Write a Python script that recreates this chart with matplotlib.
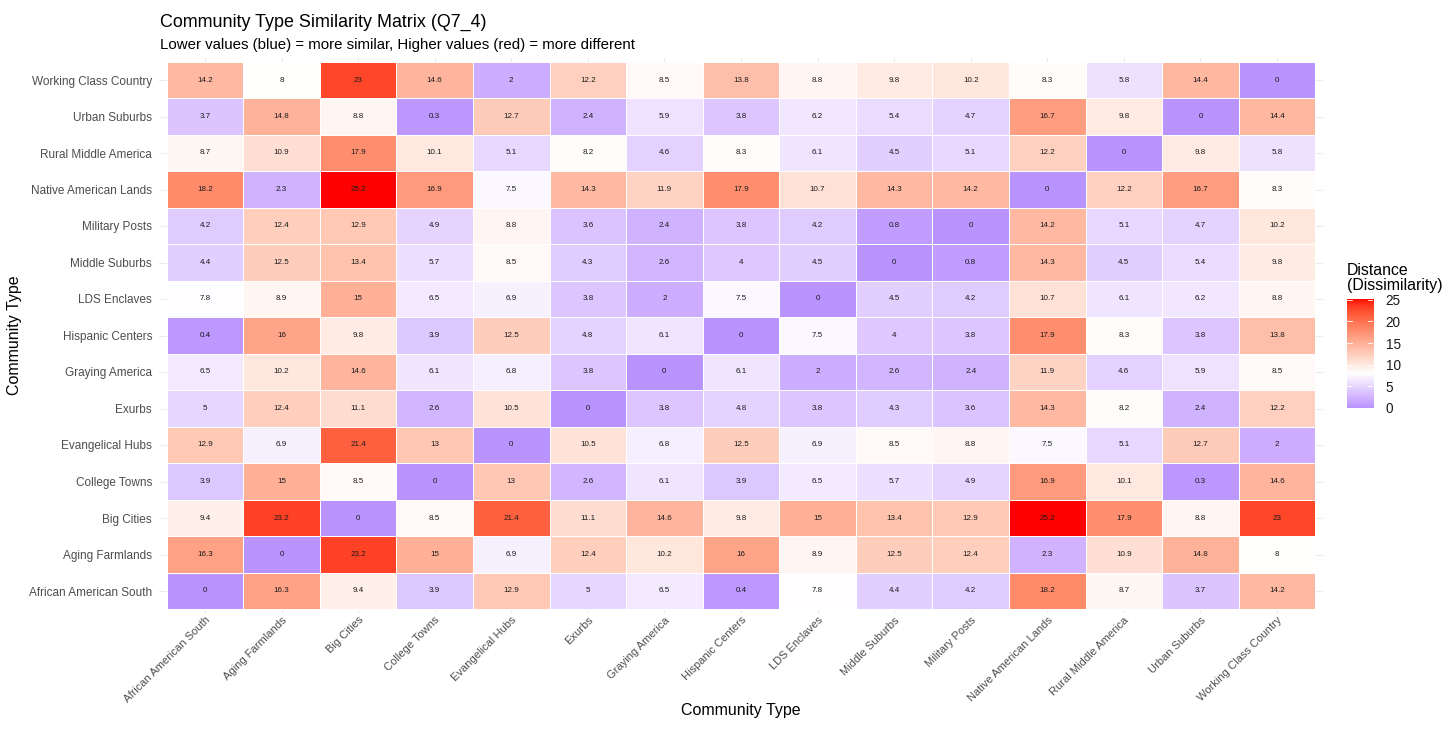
import numpy as np
import matplotlib
matplotlib.use("Agg")
import matplotlib.pyplot as plt
from matplotlib.colors import ListedColormap, Normalize

plt.rcParams['font.family'] = ['Liberation Sans', 'DejaVu Sans']

categories = ["African American South", "Aging Farmlands", "Big Cities", "College Towns",
              "Evangelical Hubs", "Exurbs", "Graying America", "Hispanic Centers",
              "LDS Enclaves", "Middle Suburbs", "Military Posts", "Native American Lands",
              "Rural Middle America", "Urban Suburbs", "Working Class Country"]

row_aas = [0, 16.3, 9.4, 3.9, 12.9, 5, 6.5, 0.4, 7.8, 4.4, 4.2, 18.2, 8.7, 3.7, 14.2]
row_af = [16.3, 0, 23.2, 15, 6.9, 12.4, 10.2, 16, 8.9, 12.5, 12.4, 2.3, 10.9, 14.8, 8]
row_bc = [9.4, 23.2, 0, 8.5, 21.4, 11.1, 14.6, 9.8, 15, 13.4, 12.9, 25.2, 17.9, 8.8, 23]
row_ct = [3.9, 15, 8.5, 0, 13, 2.6, 6.1, 3.9, 6.5, 5.7, 4.9, 16.9, 10.1, 0.3, 14.6]
row_eh = [12.9, 6.9, 21.4, 13, 0, 10.5, 6.8, 12.5, 6.9, 8.5, 8.8, 7.5, 5.1, 12.7, 2]
row_ex = [5, 12.4, 11.1, 2.6, 10.5, 0, 3.8, 4.8, 3.8, 4.3, 3.6, 14.3, 8.2, 2.4, 12.2]
row_ga = [6.5, 10.2, 14.6, 6.1, 6.8, 3.8, 0, 6.1, 2, 2.6, 2.4, 11.9, 4.6, 5.9, 8.5]
row_hc = [0.4, 16, 9.8, 3.9, 12.5, 4.8, 6.1, 0, 7.5, 4, 3.8, 17.9, 8.3, 3.8, 13.8]
row_lds = [7.8, 8.9, 15, 6.5, 6.9, 3.8, 2, 7.5, 0, 4.5, 4.2, 10.7, 6.1, 6.2, 8.8]
row_ms = [4.4, 12.5, 13.4, 5.7, 8.5, 4.3, 2.6, 4, 4.5, 0, 0.8, 14.3, 4.5, 5.4, 9.8]
row_mp = [4.2, 12.4, 12.9, 4.9, 8.8, 3.6, 2.4, 3.8, 4.2, 0.8, 0, 14.2, 5.1, 4.7, 10.2]
row_nal = [18.2, 2.3, 25.2, 16.9, 7.5, 14.3, 11.9, 17.9, 10.7, 14.3, 14.2, 0, 12.2, 16.7, 8.3]
row_rma = [8.7, 10.9, 17.9, 10.1, 5.1, 8.2, 4.6, 8.3, 6.1, 4.5, 5.1, 12.2, 0, 9.8, 5.8]
row_us = [3.7, 14.8, 8.8, 0.3, 12.7, 2.4, 5.9, 3.8, 6.2, 5.4, 4.7, 16.7, 9.8, 0, 14.4]
row_wcc = [14.2, 8, 23, 14.6, 2, 12.2, 8.5, 13.8, 8.8, 9.8, 10.2, 8.3, 5.8, 14.4, 0]

matrix = np.array([row_aas, row_af, row_bc, row_ct, row_eh, row_ex, row_ga, row_hc,
                   row_lds, row_ms, row_mp, row_nal, row_rma, row_us, row_wcc], dtype=float)

legend_ticks = [0, 5, 10, 15, 20, 25]
midpoint = 8.0

# ---- Lab interpolation (like ggplot2 scale_fill_gradient2) ----
def srgb_to_lab(rgb):
    rgb = np.asarray(rgb, float)
    lin = np.where(rgb <= 0.04045, rgb / 12.92, ((rgb + 0.055) / 1.055) ** 2.4)
    M = np.array([[0.4124, 0.3576, 0.1805], [0.2126, 0.7152, 0.0722], [0.0193, 0.1192, 0.9505]])
    xyz = M @ lin
    wp = np.array([0.95047, 1.0, 1.08883])
    t = xyz / wp
    f = np.where(t > (6 / 29) ** 3, np.cbrt(t), t / (3 * (6 / 29) ** 2) + 4 / 29)
    return np.array([116 * f[1] - 16, 500 * (f[0] - f[1]), 200 * (f[1] - f[2])])

def lab_to_srgb(lab):
    L, a, b = lab
    fy = (L + 16) / 116
    fx = fy + a / 500
    fz = fy - b / 200
    f = np.array([fx, fy, fz])
    t = np.where(f > 6 / 29, f ** 3, 3 * (6 / 29) ** 2 * (f - 4 / 29))
    wp = np.array([0.95047, 1.0, 1.08883])
    xyz = t * wp
    Minv = np.array([[3.2406, -1.5372, -0.4986], [-0.9689, 1.8758, 0.0415], [0.0557, -0.2040, 1.0570]])
    lin = Minv @ xyz
    lin = np.clip(lin, 0, 1)
    rgb = np.where(lin <= 0.0031308, 12.92 * lin, 1.055 * lin ** (1 / 2.4) - 0.055)
    return np.clip(rgb, 0, 1)

low = srgb_to_lab([0, 0, 1])
mid = srgb_to_lab([1, 1, 1])
high = srgb_to_lab([1, 0, 0])
cols = []
for t in np.linspace(0, 1, 512):
    if t < 0.5:
        u = t / 0.5
        lab = low + (mid - low) * u
    else:
        u = (t - 0.5) / 0.5
        lab = mid + (high - mid) * u
    cols.append(lab_to_srgb(lab))
cmap = ListedColormap(cols)
vmax = matrix.max()
vmin_data = matrix.min()
half = max(abs(vmax - midpoint), abs(vmin_data - midpoint))
norm = Normalize(vmin=midpoint - half, vmax=midpoint + half)

# ---- figure ----
W, H = 1456, 732
fig = plt.figure(figsize=(W / 100, H / 100), dpi=100)
PL, PR, PT, PB = 159.0, 1323.0, 58.1, 612.9
ax = fig.add_axes([PL / W, 1 - PB / H, (PR - PL) / W, (PB - PT) / H])

n = len(categories)
xi = np.arange(n)
ax.set_xlim(-0.6, n - 0.4)
ax.set_ylim(-0.6, n - 0.4)
ax.set_xticks(xi)
ax.set_yticks(xi)
ax.grid(True, color='#EBEBEB', lw=0.8)
ax.set_axisbelow(True)
edges = np.arange(n + 1) - 0.5
ax.pcolormesh(edges, edges, matrix, cmap=cmap, norm=norm, edgecolor='white', linewidth=0.6, zorder=2)

for i in range(n):
    for j in range(n):
        v = round(matrix[i, j], 1)
        ax.text(j, i, f"{v:g}", ha='center', va='center', fontsize=5.8, color='#1a1a1a', zorder=3)

for s in ax.spines.values():
    s.set_visible(False)
ax.tick_params(length=0, colors='#4D4D4D')
ax.tick_params(axis='y', pad=5, labelsize=8.5)
ax.tick_params(axis='x', pad=1.5, labelsize=8.0)
ax.set_xticklabels(categories, rotation=45, ha='right', rotation_mode='anchor')
ax.set_yticklabels(categories)
ax.set_xlabel("Community Type", fontsize=11.5, labelpad=-1)
ax.set_ylabel("Community Type", fontsize=11.5, labelpad=5)

fig.text(160 / W, 1 - 22 / H, "Community Type Similarity Matrix (Q7_4)", fontsize=12.9, va='center', ha='left')
fig.text(160 / W, 1 - 45 / H, "Lower values (blue) = more similar, Higher values (red) = more different",
         fontsize=10.8, va='center', ha='left')

# ---- legend ----
fig.text(1347 / W, 1 - 270 / H, "Distance", fontsize=11.4, va='center', ha='left')
fig.text(1347 / W, 1 - 285 / H, "(Dissimilarity)", fontsize=11.4, va='center', ha='left')
cax = fig.add_axes([1347 / W, 1 - 408 / H, 26 / W, 109 / H])
grad = np.linspace(vmin_data, vmax, 300).reshape(-1, 1)
cax.imshow(grad, aspect='auto', origin='lower', cmap=cmap, norm=norm,
           extent=[0, 1, vmin_data, vmax])
cax.set_xlim(0, 1)
cax.set_ylim(vmin_data, vmax)
for t in legend_ticks:
    cax.plot([0, 0.2], [t, t], color='white', lw=0.6)
    cax.plot([0.8, 1], [t, t], color='white', lw=0.6)
cax.set_xticks([])
cax.yaxis.tick_right()
cax.set_yticks(legend_ticks)
cax.tick_params(axis='y', length=0, labelsize=9.8, colors='#1a1a1a', pad=9)
for s in cax.spines.values():
    s.set_visible(False)

fig.savefig("out.png", dpi=100)
